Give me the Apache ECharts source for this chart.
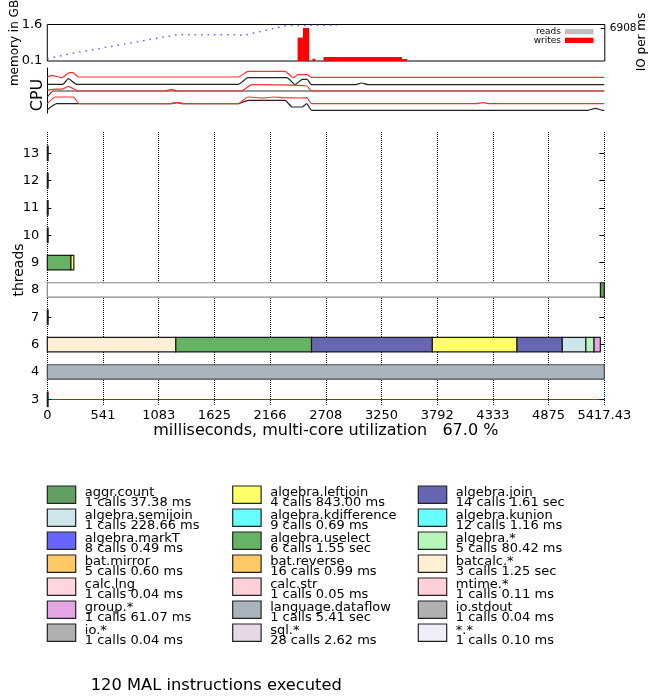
<!DOCTYPE html>
<html>
<head>
<meta charset="utf-8">
<script src="https://cdn.jsdelivr.net/npm/echarts@6/dist/echarts.min.js"></script>
<style>
  html, body { margin: 0; padding: 0; background: #fff; }
  #tomo { width: 650px; height: 698px; }
</style>
</head>
<body>
<div id="tomo"></div>
<script>
// time axis
var timeMax = 5417.43;
var xTickLabels = ['0', '541', '1083', '1625', '2166', '2708', '3250', '3792', '4333', '4875', '5417.43'];
var threadLabels = ['3', '4', '6', '7', '8', '9', '10', '11', '12', '13'];

// memory (GB) over time (ms)
var memTime = [0, 237, 1258, 1858, 1906, 2328, 2815];
var memGB = [0.19, 0.41, 1.18, 1.18, 1.15, 1.56, 1.57];

// IO writes per ms
var ioStart = [2432, 2484, 2577, 2684, 3447];
var ioEnd = [2484, 2545, 2604, 3447, 3496];
var ioWrites = [4887, 6908, 474, 825, 412];
var ioAxisMax = 7630;

// cpu traces [ms, level]
var cpuRed1 = [[0, 36], [43, 37.7], [140, 35.3], [214, 40.3], [250, 40.3], [301, 36], [1858, 36], [1952, 41.7], [2312, 41.7], [2393, 35.3], [2438, 38.3], [2526, 38.3], [2571, 35.7], [5417, 35.7]];
var cpuBlack1 = [[0, 28.7], [150, 28.7], [204, 34.3], [286, 28.7], [1858, 28.7], [1952, 35.3], [2331, 35.3], [2409, 28.3], [2480, 33.7], [2526, 33.7], [2571, 28.3], [2990, 28.3], [3058, 30], [3120, 28.3], [5417, 28.3]];
var cpuRed2 = [[0, 22.7], [60, 23.7], [150, 24], [204, 26.7], [301, 22], [1150, 22], [1204, 23.7], [1260, 22], [1890, 22], [1988, 28.3], [2523, 27], [2571, 22], [5417, 22]];
var cpuBlack2 = [[0, 16], [58, 22], [5417, 22]];
var cpuRed3 = [[0, 9.3], [75, 16], [253, 16], [311, 9.3], [1200, 9.3], [1261, 10.3], [1320, 9.3], [1858, 9.3], [1952, 16], [2100, 15], [2200, 16], [2300, 15.3], [2450, 15], [2523, 15.3], [2571, 9.3], [4170, 9.3], [4238, 10.3], [4300, 9.3], [5417, 9.3]];
var cpuBlack3 = [[0, 3.3], [91, 9.3], [1200, 9.3], [1261, 10.3], [1320, 9.3], [1858, 9.3], [1952, 12.7], [2312, 12.7], [2380, 6], [2477, 6], [2523, 9.3], [2571, 2.7], [5260, 2.7], [5330, 4.7], [5400, 2.7], [5417, 2.7]];

// thread bars
var barThread = ['9', '9', '8', '8', '6', '6', '6', '6', '6', '6', '6', '6', '4', '13', '12', '11', '10', '7', '3'];
var barStart = [0, 230, 0, 5380, 0, 1250, 2570, 3745, 4568, 5009, 5238, 5318, 0, 0, 0, 0, 0, 0, 0];
var barEnd = [230, 258, 5380, 5417.43, 1250, 2570, 3745, 4568, 5009, 5238, 5318, 5379, 5417.43, 8, 8, 8, 8, 8, 2];
var barOp = ['algebra.uselect', 'algebra.leftjoin', 'idle', 'aggr.count', 'batcalc.*', 'algebra.uselect', 'algebra.join', 'algebra.leftjoin', 'algebra.join', 'algebra.semijoin', 'algebra.*', 'group.*', 'language.dataflow', 'sql.*', 'sql.*', 'sql.*', 'sql.*', 'sql.*', 'sql.*'];

// legend
var legendOps = ['aggr.count', 'algebra.leftjoin', 'algebra.join',
  'algebra.semijoin', 'algebra.kdifference', 'algebra.kunion',
  'algebra.markT', 'algebra.uselect', 'algebra.*',
  'bat.mirror', 'bat.reverse', 'batcalc.*',
  'calc.lng', 'calc.str', 'mtime.*',
  'group.*', 'language.dataflow', 'io.stdout',
  'io.*', 'sql.*', '*.*'];
var legendCalls = ['1 calls 37.38 ms', '4 calls 843.00 ms', '14 calls 1.61 sec',
  '1 calls 228.66 ms', '9 calls 0.69 ms', '12 calls 1.16 ms',
  '8 calls 0.49 ms', '6 calls 1.55 sec', '5 calls 80.42 ms',
  '5 calls 0.60 ms', '16 calls 0.99 ms', '3 calls 1.25 sec',
  '1 calls 0.04 ms', '1 calls 0.05 ms', '1 calls 0.11 ms',
  '1 calls 61.07 ms', '1 calls 5.41 sec', '1 calls 0.04 ms',
  '1 calls 0.04 ms', '28 calls 2.62 ms', '1 calls 0.10 ms'];
var legendColors = ['#629f62', '#ffff66', '#6666b3',
  '#cce6ec', '#66ffff', '#66ffff',
  '#6666ff', '#66b366', '#b8f5b8',
  '#ffc966', '#ffc966', '#ffefd5',
  '#ffd6dd', '#ffd0d8', '#ffd0d8',
  '#e6a6e6', '#aab4bf', '#b0b0b0',
  '#b0b0b0', '#e6d8e6', '#eeeef8'];
var instrText = '120 MAL instructions executed';

var FONT = 'DejaVu Sans';
var opColor = { 'idle': '#ffffff' };
legendOps.forEach(function (op, i) { opColor[op] = legendColors[i]; });
var opStroke = { 'idle': '#888888', 'language.dataflow': '#4a4a4a' };

var chart = echarts.init(document.getElementById('tomo'), null, { renderer: 'canvas' });

function cpuSeries(data, color) {
  return {
    type: 'line', xAxisIndex: 1, yAxisIndex: 2, data: data,
    symbol: 'none', smooth: 0.15, silent: true,
    lineStyle: { color: color, width: 1.2 }
  };
}

var graphics = [];
legendOps.forEach(function (op, i) {
  var col = i % 3, row = Math.floor(i / 3);
  var bx = [47.3, 232.7, 418.3][col];
  var by = 486 + row * 23;
  graphics.push({ type: 'rect', shape: { x: bx, y: by, width: 28.4, height: 17.3 },
    style: { fill: legendColors[i], stroke: '#222', lineWidth: 1.2 } });
  graphics.push({ type: 'text', x: bx + 37.5, y: by + 1.5,
    style: { text: op + '\n' + legendCalls[i], fill: '#000', fontSize: 13, fontFamily: FONT,
      lineHeight: 10, verticalAlign: 'top', align: 'left' } });
});
graphics.push(
  { type: 'text', x: 90.7, y: 686, style: { text: instrText, fill: '#000', fontSize: 16.3, fontFamily: FONT, verticalAlign: 'middle' } },
  { type: 'text', x: 14.5, y: 43, rotation: Math.PI / 2, style: { text: 'memory in GB', fill: '#000', fontSize: 12, fontFamily: FONT, align: 'center', verticalAlign: 'middle' } },
  { type: 'text', x: 641.5, y: 42, rotation: Math.PI / 2, style: { text: 'IO per ms', fill: '#000', fontSize: 12, fontFamily: FONT, align: 'center', verticalAlign: 'middle' } },
  { type: 'text', x: 37.5, y: 95, rotation: Math.PI / 2, style: { text: 'CPU', fill: '#000', fontSize: 16, fontFamily: FONT, align: 'center', verticalAlign: 'middle' } },
  { type: 'text', x: 19.5, y: 270, rotation: Math.PI / 2, style: { text: 'threads', fill: '#000', fontSize: 14, fontFamily: FONT, align: 'center', verticalAlign: 'middle' } },
  { type: 'text', x: 561, y: 32, style: { text: 'reads', fill: '#000', fontSize: 9, fontFamily: FONT, align: 'right', verticalAlign: 'middle' } },
  { type: 'rect', shape: { x: 565, y: 29, width: 28.5, height: 5.3 }, style: { fill: '#c0c0c0' } },
  { type: 'text', x: 561, y: 40.3, style: { text: 'writes', fill: '#000', fontSize: 9, fontFamily: FONT, align: 'right', verticalAlign: 'middle' } },
  { type: 'rect', shape: { x: 565, y: 37.7, width: 28.5, height: 5.3 }, style: { fill: '#ff0000' } }
);

var option = {
  animation: false,
  backgroundColor: '#fff',
  textStyle: { fontFamily: FONT },
  grid: [
    { left: 47.3, top: 24.5, width: 557.5, height: 36.5, show: true, borderColor: '#000', borderWidth: 1, backgroundColor: 'transparent', outerBoundsMode: 'none' },
    { left: 47.3, top: 68, width: 557, height: 45, outerBoundsMode: 'none' },
    { left: 47.3, top: 132, width: 557, height: 274, outerBoundsMode: 'none' }
  ],
  xAxis: [
    { gridIndex: 0, type: 'value', min: 0, max: timeMax, show: false },
    { gridIndex: 1, type: 'value', min: 0, max: timeMax, show: false },
    {
      gridIndex: 2, type: 'value', min: 0, max: timeMax, interval: timeMax / 10,
      name: 'milliseconds, multi-core utilization   67.0 %', nameLocation: 'middle', nameGap: 10,
      nameTextStyle: { fontSize: 16, color: '#000', fontFamily: FONT },
      axisLine: { show: true, lineStyle: { color: '#ff0000', width: 1 } },
      axisTick: { show: false },
      axisLabel: {
        color: '#000', fontSize: 13, margin: 3, showMinLabel: true, showMaxLabel: true, hideOverlap: false,
        formatter: function (v) { return xTickLabels[Math.round(v / (timeMax / 10))]; }
      },
      splitLine: { show: true, lineStyle: { color: '#000', type: 'dotted', width: 1 } }
    }
  ],
  yAxis: [
    {
      gridIndex: 0, type: 'value', min: 0.1, max: 1.6,
      axisLine: { show: false }, axisTick: { show: false }, splitLine: { show: false },
      axisLabel: { customValues: [0.1, 1.6], color: '#000', fontSize: 13, margin: 5, formatter: function (v) { return v.toFixed(1); } }
    },
    {
      gridIndex: 0, type: 'value', position: 'right', min: 0, max: ioAxisMax,
      axisLine: { show: false }, splitLine: { show: false },
      axisTick: { show: true, inside: true, length: 4, customValues: [6908], lineStyle: { color: '#000' } },
      axisLabel: { customValues: [6908], color: '#000', fontSize: 10.5, margin: 5, formatter: function (v) { return String(Math.round(v)); } }
    },
    {
      gridIndex: 1, type: 'value', min: 0, max: 45,
      axisLine: { show: true, lineStyle: { color: '#000', width: 1 } },
      axisTick: { show: false }, axisLabel: { show: false }, splitLine: { show: false }
    },
    {
      gridIndex: 2, type: 'value', min: -0.245, max: 9.78,
      axisLine: { show: false }, splitLine: { show: false },
      axisTick: { show: true, inside: true, length: 4, customValues: [0, 1, 2, 3, 4, 5, 6, 7, 8, 9], lineStyle: { color: '#000' } },
      axisLabel: {
        customValues: [0, 1, 2, 3, 4, 5, 6, 7, 8, 9], color: '#000', fontSize: 13, margin: 8,
        formatter: function (v) { return threadLabels[Math.round(v)]; }
      }
    },
    {
      gridIndex: 2, type: 'value', position: 'right', min: -0.245, max: 9.78,
      axisLine: { show: false }, splitLine: { show: false }, axisLabel: { show: false },
      axisTick: { show: true, inside: true, length: 5, customValues: [0, 1, 2, 3, 4, 5, 6, 7, 8, 9], lineStyle: { color: '#000' } }
    }
  ],
  series: [
    {
      type: 'line', xAxisIndex: 0, yAxisIndex: 0, symbol: 'none', silent: true,
      data: memTime.map(function (t, i) { return [t, memGB[i]]; }),
      lineStyle: { color: '#3a3aff', width: 1.5, type: [1.5, 5], opacity: 0.8 }
    },
    {
      type: 'custom', xAxisIndex: 0, yAxisIndex: 1, silent: true,
      data: ioStart.map(function (s, i) { return [s, ioEnd[i], ioWrites[i]]; }),
      encode: { x: [0, 1], y: 2 },
      renderItem: function (params, api) {
        var p0 = api.coord([api.value(0), api.value(2)]);
        var p1 = api.coord([api.value(1), 0]);
        return { type: 'rect', shape: { x: p0[0], y: p0[1], width: p1[0] - p0[0], height: p1[1] - p0[1] }, style: { fill: '#ff0000' } };
      }
    },
    cpuSeries(cpuBlack1, '#222'),
    cpuSeries(cpuBlack2, '#333'),
    cpuSeries(cpuBlack3, '#222'),
    cpuSeries(cpuRed1, '#ff3030'),
    cpuSeries(cpuRed2, '#ff3030'),
    cpuSeries(cpuRed3, '#ff3030'),
    {
      type: 'custom', xAxisIndex: 2, yAxisIndex: 3, silent: true,
      data: barThread.map(function (t, i) { return [threadLabels.indexOf(t), barStart[i], barEnd[i], i]; }),
      encode: { x: [1, 2], y: 0 },
      renderItem: function (params, api) {
        var k = api.value(3);
        var a = api.coord([api.value(1), api.value(0)]);
        var b = api.coord([api.value(2), api.value(0)]);
        var h = api.size([0, 1])[1] * 0.53;
        var op = barOp[k];
        return {
          type: 'rect',
          shape: { x: a[0], y: a[1] - h / 2, width: Math.max(b[0] - a[0], 0.8), height: h },
          style: { fill: opColor[op], stroke: opStroke[op] || '#1a1a1a', lineWidth: 1.2 }
        };
      }
    }
  ],
  graphic: graphics
};

chart.setOption(option);
</script>
</body>
</html>
